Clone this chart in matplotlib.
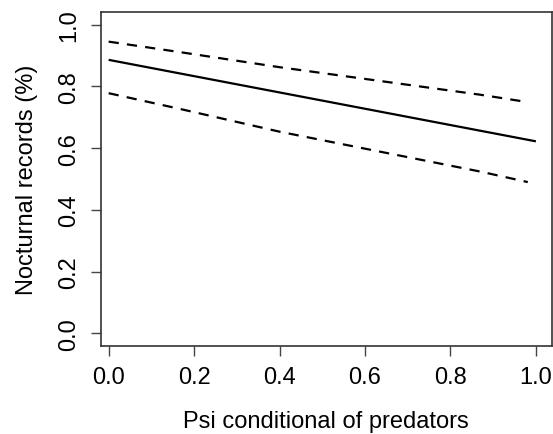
import matplotlib
matplotlib.use("Agg")
import matplotlib.pyplot as plt

plt.rcParams['font.family'] = ['Liberation Sans', 'DejaVu Sans']

# values
psi = [0.0, 1.0]
fit = [0.886, 0.622]
psi_ci = [0.0, 0.167, 0.401, 0.870, 0.981]
upper = [0.945, 0.911, 0.862, 0.773, 0.749]
lower = [0.778, 0.727, 0.653, 0.524, 0.490]
ticks = [0.0, 0.2, 0.4, 0.6, 0.8, 1.0]
tick_labels = ["0.0", "0.2", "0.4", "0.6", "0.8", "1.0"]

fig = plt.figure(figsize=(5.53, 4.35), dpi=100)
ax = fig.add_axes([0.182, 0.2023, 0.8157, 0.7671])

ax.plot(psi, fit, color='black', lw=1.6, solid_capstyle='butt')
ax.plot(psi_ci, upper, color='black', lw=1.6, dashes=(4.6, 3.7))
ax.plot(psi_ci, lower, color='black', lw=1.6, dashes=(4.6, 3.7))

ax.set_xlim(-0.0187, 1.037)
ax.set_ylim(-0.041, 1.04)
ax.set_xticks(ticks)
ax.set_xticklabels(tick_labels)
ax.set_yticks(ticks)
ax.set_yticklabels(tick_labels, rotation=90, va='center')

for s in ax.spines.values():
    s.set_color('#333333')
    s.set_linewidth(1.2)
ax.tick_params(length=7.5, width=1.0, color='#444444', labelsize=17, pad=7)

ax.set_xlabel("Psi conditional of predators", fontsize=17, labelpad=16)
ax.set_ylabel("Nocturnal records (%)", fontsize=17, labelpad=15)

fig.savefig("out.png", dpi=100)
